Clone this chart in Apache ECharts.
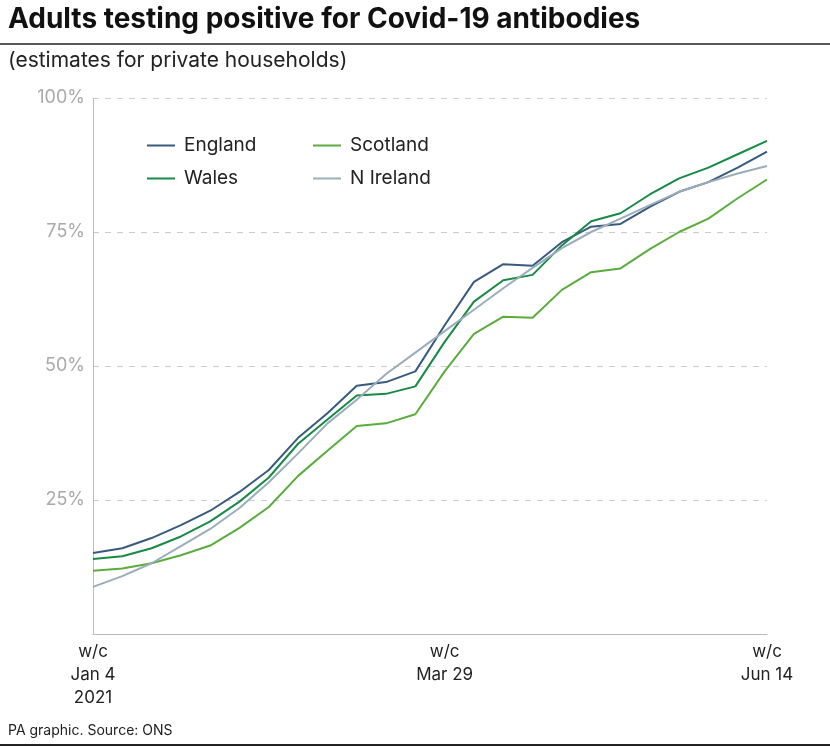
<!DOCTYPE html>
<html><head><meta charset="utf-8">
<script src="https://cdn.jsdelivr.net/npm/echarts@6/dist/echarts.min.js"></script>
<style>html,body{margin:0;padding:0;background:#fff}#c{width:830px;height:747px}</style>
</head><body><div id="c"></div>
<script>
const categories = ["w/c\nJan 4\n2021","","","","","","","","","","","","w/c\nMar 29","","","","","","","","","","","w/c\nJun 14"];
const england = [15.1,16,17.9,20.3,23,26.5,30.6,36.6,41.2,46.3,47,49,57.6,65.7,69,68.7,73.1,76,76.5,79.7,82.5,84.3,87,90];
const wales = [14,14.5,16,18.2,21,24.7,29.2,35.5,40,44.5,44.8,46.2,54.5,62,66,67,72.5,77,78.5,82,85,87,89.5,92];
const scotland = [11.8,12.2,13.2,14.7,16.5,19.8,23.7,29.5,34.2,38.8,39.3,41,49,56,59.2,59,64.2,67.5,68.2,71.8,75,77.5,81.3,84.8];
const nireland = [8.8,10.8,13.2,16.4,19.6,23.5,28.3,33.7,39.3,43.7,48.5,52.5,56.5,60.5,64.5,68.3,72,75,77.5,80,82.5,84.3,85.9,87.3];
const yTicks = [25,50,75,100];

const chart = echarts.init(document.getElementById('c'));
const mk = (name, data, color) => ({name, type:'line', data, symbol:'none', smooth:false,
  lineStyle:{color, width:2}, itemStyle:{color}});
const legendBase = {orient:'vertical', top:131, itemWidth:28, itemHeight:2, itemGap:14,
  icon:'rect', textStyle:{fontSize:19, color:'#222', padding:[0,0,0,4]}};
chart.setOption({
  animation:false,
  textStyle:{fontFamily:'Inter, Roboto, sans-serif'},
  graphic:[
    {type:'text', left:8, top:6, style:{text:'Adults testing positive for Covid-19 antibodies', font:'bold 28px Inter, Roboto, sans-serif', fill:'#111'}},
    {type:'line', shape:{x1:0,y1:44,x2:830,y2:44}, style:{stroke:'#222', lineWidth:1.5}},
    {type:'text', left:8, top:50, style:{text:'(estimates for private households)', font:'21px Inter, Roboto, sans-serif', fill:'#222'}},
    {type:'text', left:8, top:724, style:{text:'PA graphic. Source: ONS', font:'14px Inter, Roboto, sans-serif', fill:'#222'}},
    {type:'line', shape:{x1:0,y1:745,x2:830,y2:745}, style:{stroke:'#222', lineWidth:2}}
  ],
  legend:[
    Object.assign({left:142, data:['England','Wales']}, legendBase),
    Object.assign({left:308, data:['Scotland','N Ireland']}, legendBase)
  ],
  grid:{left:93, right:63, top:98, bottom:113},
  xAxis:{type:'category', data:categories, boundaryGap:false,
    axisLine:{lineStyle:{color:'#bbb'}}, axisTick:{show:false},
    axisLabel:{interval:0, color:'#222', fontSize:17, lineHeight:23, margin:6}},
  yAxis:{type:'value', min:0, max:100, interval:25,
    axisLine:{show:true, lineStyle:{color:'#bbb'}},
    splitLine:{lineStyle:{color:'#ccc', type:[6,6]}},
    axisLabel:{color:'#aaa', fontSize:18, margin:8, formatter:v=>yTicks.includes(v)?v+'%':''}},
  series:[
    mk('England', england, '#385a80'),
    mk('Scotland', scotland, '#5aad3c'),
    mk('Wales', wales, '#178a45'),
    mk('N Ireland', nireland, '#9badbb')
  ]
});
</script></body></html>
